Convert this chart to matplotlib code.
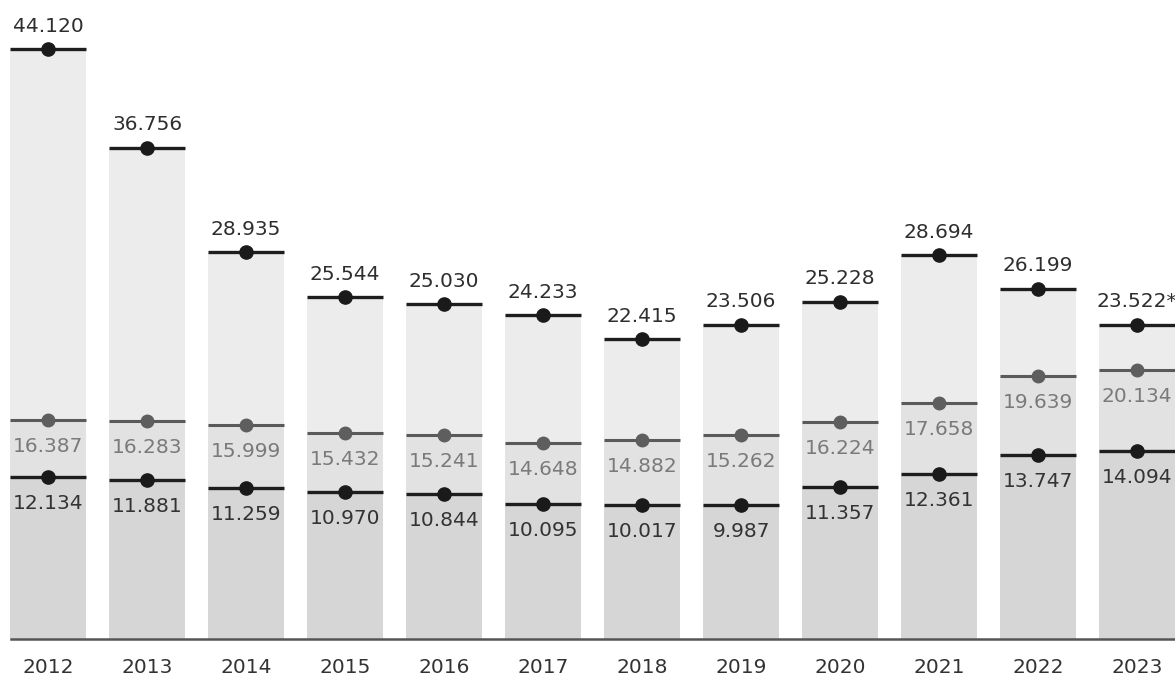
import matplotlib
matplotlib.use("Agg")
import matplotlib.pyplot as plt

years = ["2012", "2013", "2014", "2015", "2016", "2017", "2018", "2019", "2020", "2021", "2022", "2023"]
total = [44.120, 36.756, 28.935, 25.544, 25.030, 24.233, 22.415, 23.506, 25.228, 28.694, 26.199, 23.522]
middle = [16.387, 16.283, 15.999, 15.432, 15.241, 14.648, 14.882, 15.262, 16.224, 17.658, 19.639, 20.134]
lower = [12.134, 11.881, 11.259, 10.970, 10.844, 10.095, 10.017, 9.987, 11.357, 12.361, 13.747, 14.094]
total_labels = ["44.120", "36.756", "28.935", "25.544", "25.030", "24.233", "22.415", "23.506", "25.228", "28.694", "26.199", "23.522*"]
middle_labels = ["16.387", "16.283", "15.999", "15.432", "15.241", "14.648", "14.882", "15.262", "16.224", "17.658", "19.639", "20.134"]
lower_labels = ["12.134", "11.881", "11.259", "10.970", "10.844", "10.095", "10.017", "9.987", "11.357", "12.361", "13.747", "14.094"]

plt.rcParams['font.family'] = ['DejaVu Sans']

fig = plt.figure(figsize=(11.75, 6.77), dpi=100)
ax = fig.add_axes([0, 0, 1, 1])
ax.set_axis_off()

x = list(range(len(years)))
w = 0.76
# bars in three shades
ax.bar(x, total, width=w, color="#ececec", zorder=1)
ax.bar(x, middle, width=w, color="#e2e2e2", zorder=1)
ax.bar(x, lower, width=w, color="#d6d6d6", zorder=1)

xmin = [i - w / 2 for i in x]
xmax = [i + w / 2 for i in x]
ax.hlines(total, xmin, xmax, color="#1e1e1e", lw=2.4, zorder=3)
ax.hlines(middle, xmin, xmax, color="#5a5a5a", lw=2.2, zorder=3)
ax.hlines(lower, xmin, xmax, color="#1e1e1e", lw=2.4, zorder=3)
ax.plot(x, total, 'o', color="#1a1a1a", ms=9.5, zorder=4)
ax.plot(x, middle, 'o', color="#5e5e5e", ms=9, zorder=4)
ax.plot(x, lower, 'o', color="#1a1a1a", ms=9.5, zorder=4)

fs = 14.5
for i in x:
    ax.annotate(total_labels[i], (i, total[i]), xytext=(0, 12.5), textcoords="offset points",
                ha="center", va="baseline", fontsize=fs, color="#2e2e2e", zorder=5)
    ax.annotate(middle_labels[i], (i, middle[i]), xytext=(0, -23), textcoords="offset points",
                ha="center", va="baseline", fontsize=fs, color="#7a7a7a", zorder=5)
    ax.annotate(lower_labels[i], (i, lower[i]), xytext=(0, -23), textcoords="offset points",
                ha="center", va="baseline", fontsize=fs, color="#333333", zorder=5)
    ax.annotate(years[i], (i, 0), xytext=(0, -24.5), textcoords="offset points",
                ha="center", va="baseline", fontsize=fs, color="#333333")

ax.axhline(0, xmin=11 / 1175, xmax=1, color="#555555", lw=1.8, zorder=2)

ax.set_xlim(-48 / 99, (1175 - 48) / 99)
scale = 13.37
ax.set_ylim(-(677 - 639) / scale, 639 / scale)

fig.savefig("out.png", dpi=100)
